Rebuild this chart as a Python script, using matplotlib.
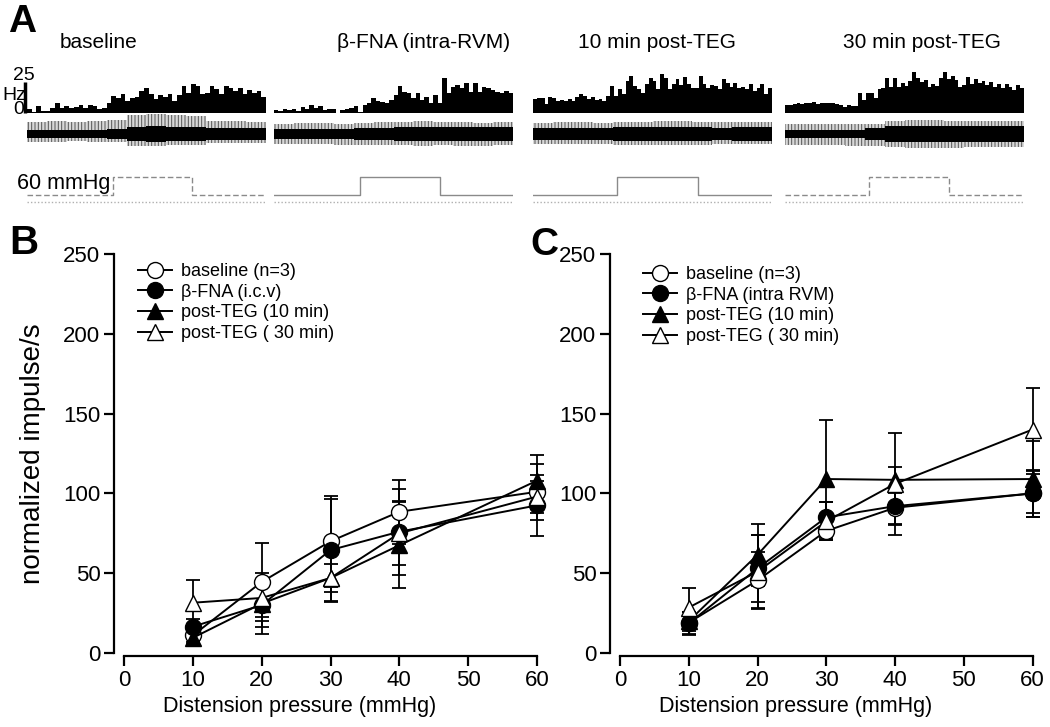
import matplotlib
matplotlib.use('Agg')
import matplotlib.pyplot as plt
import numpy as np
from matplotlib.transforms import blended_transform_factory

W, H = 1050, 727
plt.rcParams['font.family'] = ['Liberation Sans', 'DejaVu Sans']
plt.rcParams['hatch.linewidth'] = 0.7

# ---------------- Panel A data ----------------
seg_titles = ['baseline', 'β-FNA (intra-RVM)', '10 min post-TEG', '30 min post-TEG']

hist_baseline = [2.7, 0.8, 5.4, 1.3, 1.3, 4, 8, 3.5, 5.4, 4, 4.6, 6, 4, 6, 5.4, 2.7, 3.5, 8,
                 13.4, 12, 15.3, 9.4, 12, 12.6, 17.5, 20, 14.8, 10.7, 14.2, 12.6, 15.3, 9.4,
                 14.2, 21.5, 16, 23.4, 21.5, 14.8, 16, 21.5, 18.8, 14.8, 21.5, 20, 17.5, 20,
                 14.8, 18, 16, 17.5, 12.6]
hist_fna = [2, 1.6, 2.7, 2, 2.7, 1.6, 4.3, 2.7, 6.2, 3.5, 5.4, 2, 2.7, 2.7, 0, 2, 2.7, 3.5,
            5.4, 0.5, 6.2, 7.5, 11.6, 9.7, 8.9, 8, 10.2, 14.2, 21.5, 17, 15.6, 11.6, 16, 10.2,
            12.9, 7.5, 14.2, 7.5, 28, 15.6, 21, 22.3, 19.6, 23.7, 17, 23.7, 17, 21, 19.6, 18.3,
            17, 16, 17.7, 15.6]
hist_teg10 = [10.8, 11.6, 12, 7.3, 12.6, 11.6, 9.4, 10, 9.4, 10.8, 9.4, 12.6, 15.3, 13.4, 10.8,
              12.6, 10, 10.8, 9.4, 13.4, 21.5, 13.4, 18.8, 14.8, 25.5, 29.5, 21.5, 18.8, 16,
              22.8, 28, 25.5, 18.8, 31, 28, 18.8, 22.8, 26.9, 22.3, 28.8, 22.8, 20, 19.6, 29.5,
              22.8, 20, 22.3, 21.5, 18.8, 26.9, 24, 20.7, 24, 20, 20.7, 18.8, 23.4, 17.5, 19.6,
              23.4, 14.8, 19.6]
hist_teg30 = [6.2, 6.2, 7, 8, 7, 7.5, 8, 8.9, 7, 8, 7.5, 8, 7.5, 7, 6.2, 4.8, 6.2, 5.4, 5.4,
              15.6, 10.2, 16, 15.6, 11.6, 18.8, 19.6, 27.7, 21, 27.7, 21, 23.7, 21.5, 25.8, 33,
              27.7, 25, 26.3, 21, 23, 21.5, 27.7, 33, 26.9, 29.6, 26.3, 21, 22.3, 29, 23, 26.9,
              23.7, 25.8, 22.3, 24.7, 20.4, 23, 19.6, 23, 21, 18.3, 22.3, 19.6]
histograms = [hist_baseline, hist_fna, hist_teg10, hist_teg30]
hz_scale = 25

# raw nerve trace envelopes (amplitude, arbitrary units)
trace_top = [[12, 13, 12, 13, 14, 19, 20, 19, 18, 13, 13, 12],
             [10, 11, 11, 10, 11, 12, 12, 13, 12, 12, 11, 12],
             [11, 12, 12, 11, 12, 12, 13, 13, 12, 12, 12, 12],
             [10, 10, 10, 10, 10, 13, 14, 14, 13, 13, 13, 13]]
trace_bot = [[8, 8, 7, 8, 8, 12, 12, 11, 11, 9, 9, 9],
             [10, 10, 10, 11, 11, 11, 11, 12, 11, 12, 12, 11],
             [10, 10, 10, 10, 11, 11, 11, 11, 11, 10, 10, 10],
             [11, 11, 11, 12, 12, 13, 14, 14, 14, 13, 13, 13]]
trace_core = [[4, 4, 4, 4, 5, 7, 8, 7, 7, 6, 6, 6],
              [5, 5, 5, 5, 6, 6, 7, 7, 7, 7, 7, 7],
              [6, 6, 6, 6, 7, 7, 7, 7, 7, 6, 7, 7],
              [4, 4, 4, 4, 6, 8, 8, 8, 8, 8, 8, 8]]

seg_duration = 60.0
stim_on = [21.5, 21.5, 21.0, 21.0]
stim_off = [41.5, 41.7, 41.4, 41.2]
stim_level = 60
marker_level = -22

# ---------------- Panels B / C data ----------------
pressure = [10, 20, 30, 40, 60]
labels_B = ['baseline (n=3)', 'β-FNA (i.c.v)', 'post-TEG (10 min)', 'post-TEG ( 30 min)']
labels_C = ['baseline (n=3)', 'β-FNA (intra RVM)', 'post-TEG (10 min)', 'post-TEG ( 30 min)']

B_baseline = [11, 44.5, 70, 88.5, 101]
B_baseline_err = [4, 24.5, 28.5, 20, 17.5]
B_fna = [16.5, 30, 64.5, 76, 92.5]
B_fna_err = [5, 14, 32, 27, 19]
B_teg10 = [9.5, 31, 47, 67.5, 108]
B_teg10_err = [4, 19, 15, 27, 16]
B_teg30 = [31.5, 34.5, 47, 75, 98]
B_teg30_err = [14, 12, 8.5, 20, 10]

C_baseline = [19, 45.5, 76.5, 91, 100]
C_baseline_err = [7, 18, 6, 10, 12]
C_fna = [18.5, 53, 85, 92, 100]
C_fna_err = [7, 21, 9.5, 12, 14.5]
C_teg10 = [20, 61.5, 109, 108.5, 109]
C_teg10_err = [6, 19.5, 37, 8, 24]
C_teg30 = [28.5, 51, 82.5, 106, 140]
C_teg30_err = [12.5, 23, 12, 32, 26]

xticks = [0, 10, 20, 30, 40, 50, 60]
yticks = [0, 50, 100, 150, 200, 250]

# ---------------- layout helpers ----------------
fig = plt.figure(figsize=(W / 100, H / 100), dpi=100)


def px_box(x0, y0, x1, y1):
    return [x0 / W, 1 - y1 / H, (x1 - x0) / W, (y1 - y0) / H]


def ftext(x, y, s, **kw):
    fig.text(x / W, 1 - y / H, s, **kw)


seg_x = [(27, 266), (274, 513), (533, 772), (785, 1024)]

for i, (x0, x1) in enumerate(seg_x):
    # histogram
    ax = fig.add_axes(px_box(x0, 81.7, x1, 112.7))
    vals = histograms[i]
    ax.bar(np.arange(len(vals)), vals, width=1.0, align='edge', color='black',
           linewidth=0, clip_on=False)
    ax.set_xlim(0, len(vals))
    ax.set_ylim(0, hz_scale)
    ax.axis('off')
    if i == 0:
        trans = blended_transform_factory(fig.transFigure, ax.transData)
        ax.vlines(25 / W, 0, hz_scale, transform=trans, color='black', lw=2.5,
                  clip_on=False)

    # raw trace
    axt = fig.add_axes(px_box(x0, 112, x1, 156))
    n = len(trace_top[i])
    xs = np.arange(n + 1)
    top = np.r_[trace_top[i], trace_top[i][-1]]
    bot = np.r_[trace_bot[i], trace_bot[i][-1]]
    core = np.r_[trace_core[i], trace_core[i][-1]]
    axt.fill_between(xs, -bot, top, step='post', facecolor='#d8d8d8',
                     edgecolor='#555555', hatch='|||||', lw=0)
    axt.fill_between(xs, -core, core, step='post', color='black', lw=0)
    axt.set_xlim(0, n)
    axt.set_ylim(-22, 22)
    axt.axis('off')

    # pressure trace
    axp = fig.add_axes(px_box(x0, 170, x1, 205))
    tt = [0, stim_on[i], stim_on[i], stim_off[i], stim_off[i], seg_duration]
    pp = [0, 0, stim_level, stim_level, 0, 0]
    axp.plot(tt, pp, color='#8a8a8a', lw=1.0,
             ls=(0, (4, 2)) if i in (0, 3) else '-')
    axp.plot([0, seg_duration], [marker_level, marker_level], color='#b0b0b0',
             lw=1.0, ls=(0, (1, 1.5)))
    axp.set_xlim(0, seg_duration)
    axp.set_ylim(-33.3, 83.3)
    axp.axis('off')

title_pos = [(99, 42), (424, 42), (657, 42), (922, 42)]
for (x, y), s in zip(title_pos, seg_titles):
    ftext(x, y, s, ha='center', va='center', fontsize=15)

ftext(17, 183, '60 mmHg', ha='left', va='center', fontsize=15.5)
ftext(13, 75, '25', ha='left', va='center', fontsize=14)
ftext(2, 95, 'Hz', ha='left', va='center', fontsize=14)
ftext(13, 110, '0', ha='left', va='center', fontsize=14)

ftext(8, 22, 'A', ha='left', va='center', fontsize=28, fontweight='bold')
ftext(9, 243, 'B', ha='left', va='center', fontsize=29, fontweight='bold')
ftext(530, 245, 'C', ha='left', va='center', fontsize=28, fontweight='bold')


# ---------------- Panels B and C ----------------
def draw_panel(box, data, labels, leg_xy, show_ylabel):
    ax = fig.add_axes(px_box(*box))
    styles = [dict(marker='o', mfc='white'), dict(marker='o', mfc='black'),
              dict(marker='^', mfc='black'), dict(marker='^', mfc='white')]
    handles = []
    for (vals, errs), st in zip(data, styles):
        eb = ax.errorbar(pressure, vals, yerr=errs, color='black', mec='black',
                         ms=11.5, lw=1.4, elinewidth=1.3, capsize=5, capthick=1.3,
                         clip_on=False, **st)
        for art in eb.lines[1] + eb.lines[2]:
            art.set_clip_on(False)
        handles.append(eb.lines[0])
    ax.set_xlim(0, 60)
    ax.set_ylim(0, 250)
    ax.set_xticks(xticks)
    ax.set_yticks(yticks)
    for s in ['top', 'right']:
        ax.spines[s].set_visible(False)
    ax.spines['left'].set_position(('outward', 7))
    ax.spines['bottom'].set_position(('outward', 2))
    for s in ['left', 'bottom']:
        ax.spines[s].set_linewidth(1.6)
    ax.tick_params(direction='out', length=7, width=1.6, labelsize=16, pad=3)
    ax.set_xlabel('Distension pressure (mmHg)', fontsize=15.5)
    ax.xaxis.set_label_coords(0.426, -0.108)
    if show_ylabel:
        ax.set_ylabel('normalized impulse/s', fontsize=20)
        ax.yaxis.set_label_coords(-0.19, 0.5)
    ax.legend(handles, labels, loc='upper left', frameon=False, fontsize=13,
              bbox_to_anchor=(leg_xy[0] / W, 1 - leg_xy[1] / H),
              bbox_transform=fig.transFigure, borderaxespad=0, borderpad=0,
              handlelength=1.9, handletextpad=0.5, labelspacing=0.2)
    return ax


data_B = [(B_baseline, B_baseline_err), (B_fna, B_fna_err),
          (B_teg10, B_teg10_err), (B_teg30, B_teg30_err)]
data_C = [(C_baseline, C_baseline_err), (C_fna, C_fna_err),
          (C_teg10, C_teg10_err), (C_teg30, C_teg30_err)]

draw_panel((124, 254, 537, 653), data_B, labels_B, (138, 263), True)
draw_panel((620, 254, 1032.5, 653), data_C, labels_C, (643, 266), False)

fig.savefig('out.png', dpi=100)
